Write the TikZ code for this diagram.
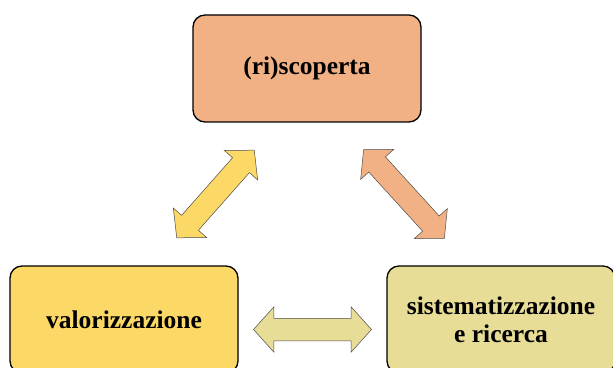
\documentclass[tikz,border=0pt]{standalone}
\usepackage{fontspec}
\setmainfont{Liberation Serif}
\usetikzlibrary{shapes.arrows,calc}
\definecolor{arancio}{RGB}{242,177,132}
\definecolor{giallo}{RGB}{252,216,102}
\definecolor{cachi}{RGB}{232,221,150}
\tikzset{
  blocco/.style={draw,line width=1.3pt,rounded corners=12pt,minimum width=228pt,minimum height=107pt,
    align=center,font=\fontsize{25.5}{28}\selectfont\bfseries},
  freccia/.style={double arrow,draw=black!70,line width=0.5pt,inner xsep=0pt,inner ysep=11pt,
    minimum height=118pt,double arrow head extend=11.5pt,double arrow tip angle=96}
}
\begin{document}
\begin{tikzpicture}[x=1pt,y=1pt]
\useasboundingbox (0,0) rectangle (613,367);

\node[blocco,fill=arancio] (scop) at (307,298.5) {(ri)scoperta};
\node[blocco,fill=giallo] (valor) at (124,47.5) {valorizzazione};
\node[blocco,fill=cachi] (sist) at (501,47.5) {sistematizzazione\\e ricerca};

\node[freccia,fill=giallo,rotate=48.5,minimum height=117pt,double arrow head extend=11pt] (fsx) at ($(valor.north east)!0.5!(scop.south west)$) {};
\node[freccia,fill=arancio,rotate=-47.7,minimum height=120pt,double arrow head extend=11pt] (fdx) at ($(scop.south east)!0.5!(sist.north west)$) {};
\node[freccia,fill=cachi,yshift=-10pt] (fbasso) at ($(valor.east)!0.5!(sist.west)$) {};
\end{tikzpicture}
\end{document}
